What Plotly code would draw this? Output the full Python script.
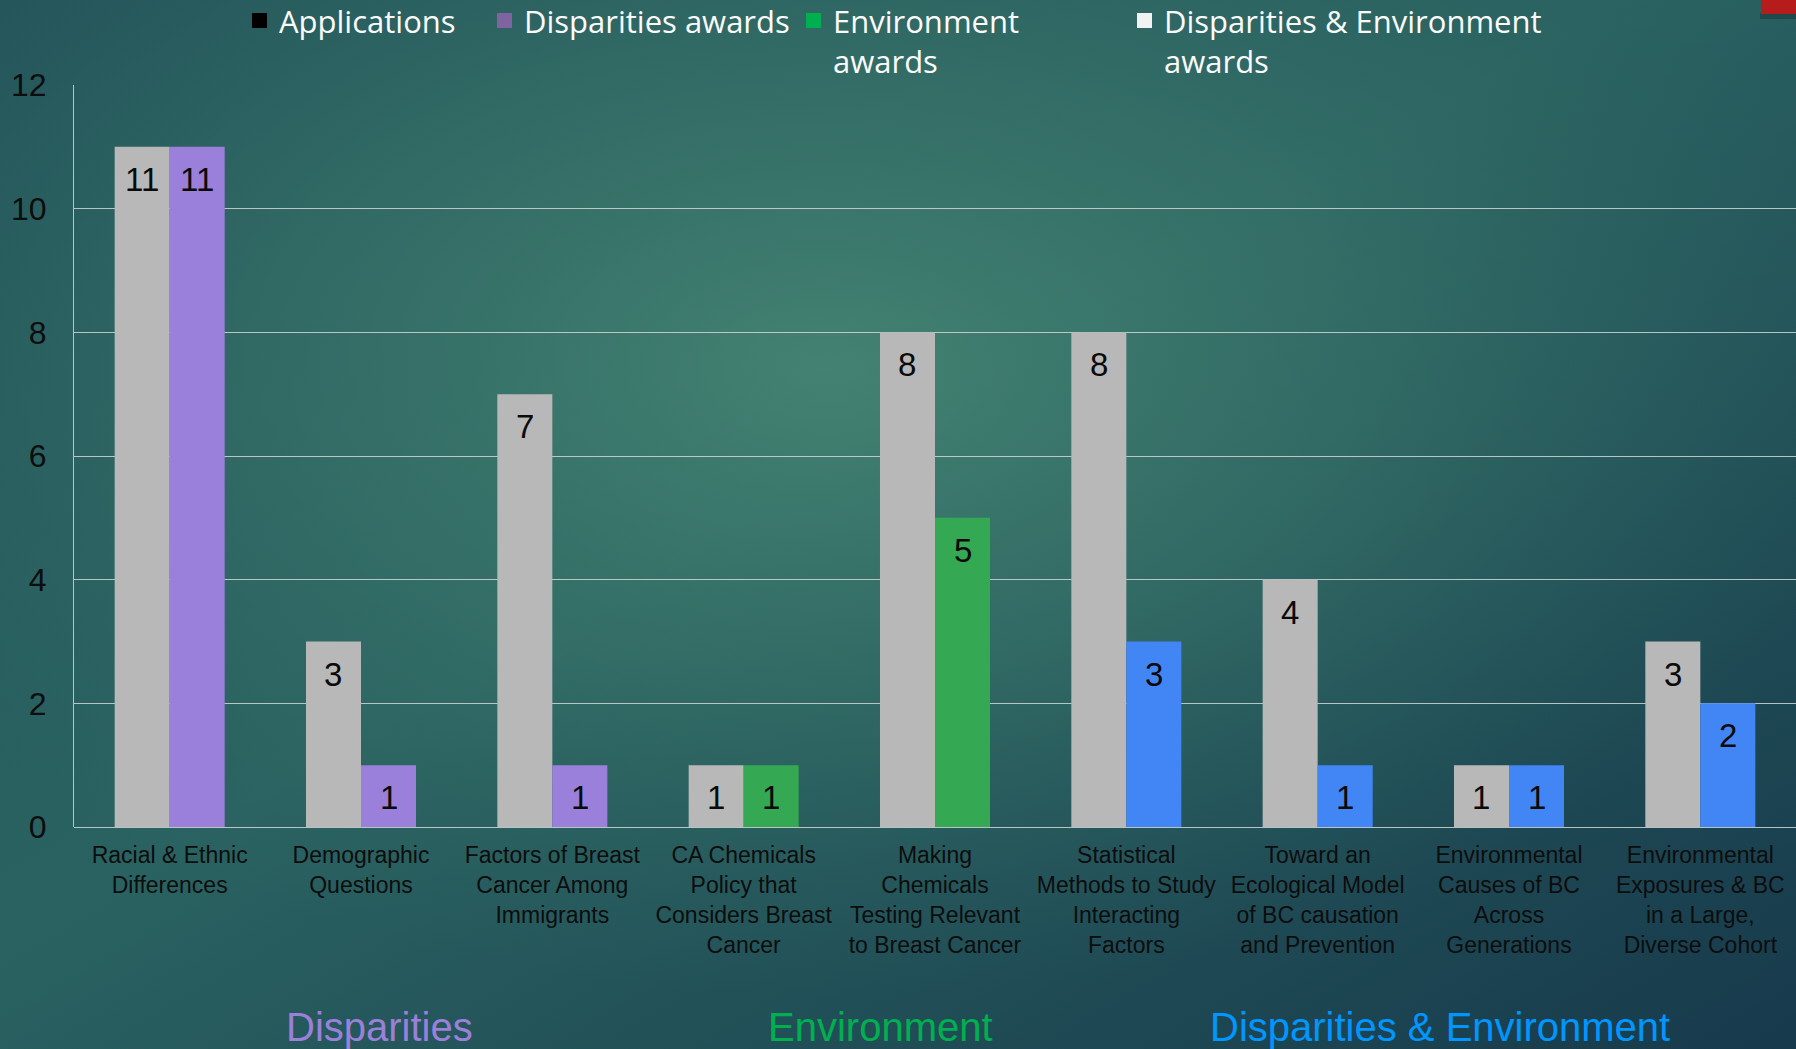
import base64
import plotly.graph_objects as go

# ---- data -------------------------------------------------------------
categories = [
    "Racial & Ethnic<br>Differences",
    "Demographic<br>Questions",
    "Factors of Breast<br>Cancer Among<br>Immigrants",
    "CA Chemicals<br>Policy that<br>Considers Breast<br>Cancer",
    "Making<br>Chemicals<br>Testing Relevant<br>to Breast Cancer",
    "Statistical<br>Methods to Study<br>Interacting<br>Factors",
    "Toward an<br>Ecological Model<br>of BC causation<br>and Prevention",
    "Environmental<br>Causes of BC<br>Across<br>Generations",
    "Environmental<br>Exposures & BC<br>in a Large,<br>Diverse Cohort",
]
applications = [11, 3, 7, 1, 8, 8, 4, 1, 3]
disparities_awards = [11, 1, 1, None, None, None, None, None, None]
environment_awards = [None, None, None, 1, 5, None, None, None, None]
disp_env_awards = [None, None, None, None, None, 3, 1, 1, 2]

legend_names = ["Applications", "Disparities awards", "Environment<br>awards",
                "Disparities & Environment<br>awards"]
group_titles = ["Disparities", "Environment", "Disparities & Environment"]

# ---- page geometry (pixels) ------------------------------------------
W, H = 1796, 1049
L, R, T, B = 74, 0, 85, 222
PW, PH = W - L - R, H - T - B
BARGAP = 0.425
BAR_W = PW / len(categories) * (1 - BARGAP) / 2   # width of one bar in px


def px_x(x):
    return (x - L) / PW


def px_y(y):
    return (H - B - y) / PH


# ---- background gradient as an inline SVG ----------------------------
bg_svg = f"""<svg xmlns='http://www.w3.org/2000/svg' width='{W}' height='{H}'>
<defs>
<linearGradient id='base' x1='0' y1='0' x2='1' y2='1'>
<stop offset='0' stop-color='#24555b'/>
<stop offset='0.45' stop-color='#2a6261'/>
<stop offset='1' stop-color='#173a4c'/>
</linearGradient>
<radialGradient id='glow' cx='0.46' cy='0.35' r='0.6'>
<stop offset='0' stop-color='#4a8b77' stop-opacity='0.8'/>
<stop offset='0.5' stop-color='#3f7d6e' stop-opacity='0.45'/>
<stop offset='1' stop-color='#2f6a64' stop-opacity='0'/>
</radialGradient>
</defs>
<rect width='100%' height='100%' fill='url(#base)'/>
<rect width='100%' height='100%' fill='url(#glow)'/>
</svg>"""
bg_uri = "data:image/svg+xml;base64," + base64.b64encode(bg_svg.encode()).decode()

GRAY = "#b8b8b8"
PURPLE = "#9a80da"
GREEN = "#34a853"
BLUE = "#4285f4"
LABEL_FONT = dict(family="Liberation Sans, Arial", size=33, color="#0a0a0a")


def bar_trace(values, color, group):
    return go.Bar(
        x=categories, y=values, marker=dict(color=color, line=dict(width=0)),
        offsetgroup=group, showlegend=False, hoverinfo="x+y",
    )


fig = go.Figure()
fig.add_trace(bar_trace(applications, GRAY, "apps"))
fig.add_trace(bar_trace(disparities_awards, PURPLE, "awards"))
fig.add_trace(bar_trace(environment_awards, GREEN, "awards"))
fig.add_trace(bar_trace(disp_env_awards, BLUE, "awards"))

annotations = []

# value labels sitting just inside the top of each bar
award_series = [disparities_awards, environment_awards, disp_env_awards]
for i, cat in enumerate(categories):
    pairs = [(applications[i], -1)]
    for series in award_series:
        if series[i] is not None:
            pairs.append((series[i], 1))
    for val, side in pairs:
        annotations.append(dict(
            x=cat, y=val, xref="x", yref="y", text=str(val),
            xshift=side * BAR_W / 2, yshift=-12, xanchor="center",
            yanchor="top", showarrow=False, font=LABEL_FONT,
        ))

# ---- custom legend ----------------------------------------------------
legend_marks = ["#000000", "#8064a2", "#00b050", "#f2f2f2"]
legend_x = [252, 497, 806, 1137]
shapes = []
for name, col, x in zip(legend_names, legend_marks, legend_x):
    shapes.append(dict(type="rect", xref="paper", yref="paper",
                       x0=px_x(x), x1=px_x(x + 15), y0=px_y(13), y1=px_y(28),
                       fillcolor=col, line=dict(width=0)))
    two_lines = "<br>" in name
    annotations.append(dict(
        text=name, xref="paper", yref="paper", x=px_x(x + 25),
        y=px_y(40.5 if two_lines else 21), xanchor="left", yanchor="middle",
        align="left", showarrow=False,
        font=dict(family="Open Sans, sans-serif", size=31, color="#fbfbfb"),
    ))

# red accent tab in the top-right corner, with a soft shadow under it
shapes.append(dict(type="rect", xref="paper", yref="paper",
                   x0=px_x(1760), x1=px_x(1796), y0=px_y(19), y1=px_y(13),
                   fillcolor="rgba(0,0,0,0.22)", line=dict(width=0)))
shapes.append(dict(type="rect", xref="paper", yref="paper",
                   x0=px_x(1761), x1=px_x(1796), y0=px_y(14), y1=px_y(-2),
                   fillcolor="#b71c1c", line=dict(width=0)))

# ---- group titles under the categories --------------------------------
title_colors = ["#9b80da", "#00b050", "#0096ff"]
title_x = [379, 880, 1440]
for txt, col, x in zip(group_titles, title_colors, title_x):
    annotations.append(dict(
        text=txt, xref="paper", yref="paper", x=px_x(x), y=px_y(1027),
        xanchor="center", yanchor="middle", showarrow=False,
        font=dict(family="Liberation Sans, Arial", size=40, color=col),
    ))

GRID = "rgba(210,215,215,0.85)"
fig.update_layout(
    width=W, height=H, autosize=False,
    margin=dict(l=L, r=R, t=T, b=B, pad=0),
    barmode="group", bargap=BARGAP, bargroupgap=0,
    paper_bgcolor="#28605f", plot_bgcolor="rgba(0,0,0,0)",
    showlegend=False,
    images=[dict(source=bg_uri, xref="paper", yref="paper",
                 x=px_x(0), y=px_y(0), sizex=W / PW, sizey=H / PH,
                 xanchor="left", yanchor="top", sizing="stretch",
                 layer="below")],
    shapes=shapes, annotations=annotations,
    xaxis=dict(
        type="category", tickangle=0, showgrid=False, zeroline=False,
        showline=False, ticks="", ticklabelstandoff=12,
        tickfont=dict(family="Liberation Sans, Arial", size=23, color="#0d0d0d"),
    ),
    yaxis=dict(
        range=[0, 12], dtick=2, tick0=0, showgrid=True,
        gridcolor=GRID, gridwidth=1,
        zeroline=True, zerolinecolor=GRID, zerolinewidth=1,
        showline=True, linecolor=GRID, linewidth=1,
        ticks="", ticklabelstandoff=20,
        tickfont=dict(family="Liberation Sans, Arial", size=32, color="#0d0d0d"),
    ),
)

fig.write_html("out.html")
